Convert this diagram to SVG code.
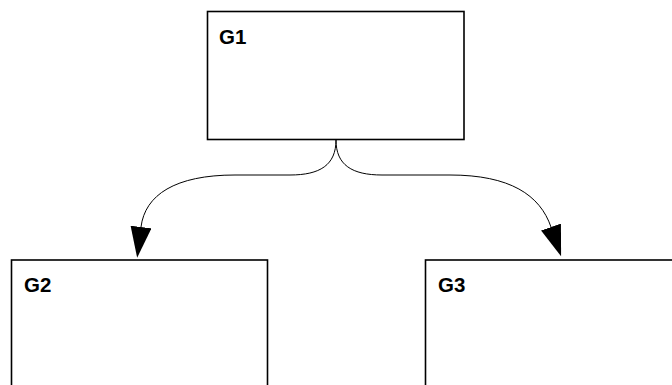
<svg xmlns="http://www.w3.org/2000/svg" width="672" height="385" viewBox="0 0 672 385">
<style>
.box{fill:#fff;stroke:#000;stroke-width:1.6}
.lbl{font-family:"Liberation Sans",Arial,sans-serif;font-weight:bold;font-size:20.5px;fill:#000}
.edge{fill:none;stroke:#000;stroke-width:1}
</style>
<defs>
<marker id="arr" markerUnits="userSpaceOnUse" markerWidth="32" markerHeight="22" refX="0" refY="10.5" orient="auto" viewBox="0 0 32 22">
<path d="M0,0 L31,10.5 L0,21 z" fill="#000"/>
</marker>
</defs>
<rect width="672" height="385" fill="#fff"/>
<g id="G1"><rect class="box" x="207.5" y="11.5" width="256.5" height="128"/><text class="lbl" x="219" y="43.5">G1</text></g>
<g id="G2"><rect class="box" x="11.5" y="260" width="256" height="140"/><text class="lbl" x="24" y="292">G2</text></g>
<g id="G3"><rect class="box" x="425.5" y="260" width="256" height="140"/><text class="lbl" x="438" y="292">G3</text></g>
<g id="connectors">
<path class="edge" d="M336,140 C336,165 320,175 290,175 L235,175 C175,175 145,195 141,227" marker-end="url(#arr)"/>
<path class="edge" d="M336,140 C336,165 352,175 382,175 L450,175 C510,175 540,195 551,227" marker-end="url(#arr)"/>
</g>
</svg>
